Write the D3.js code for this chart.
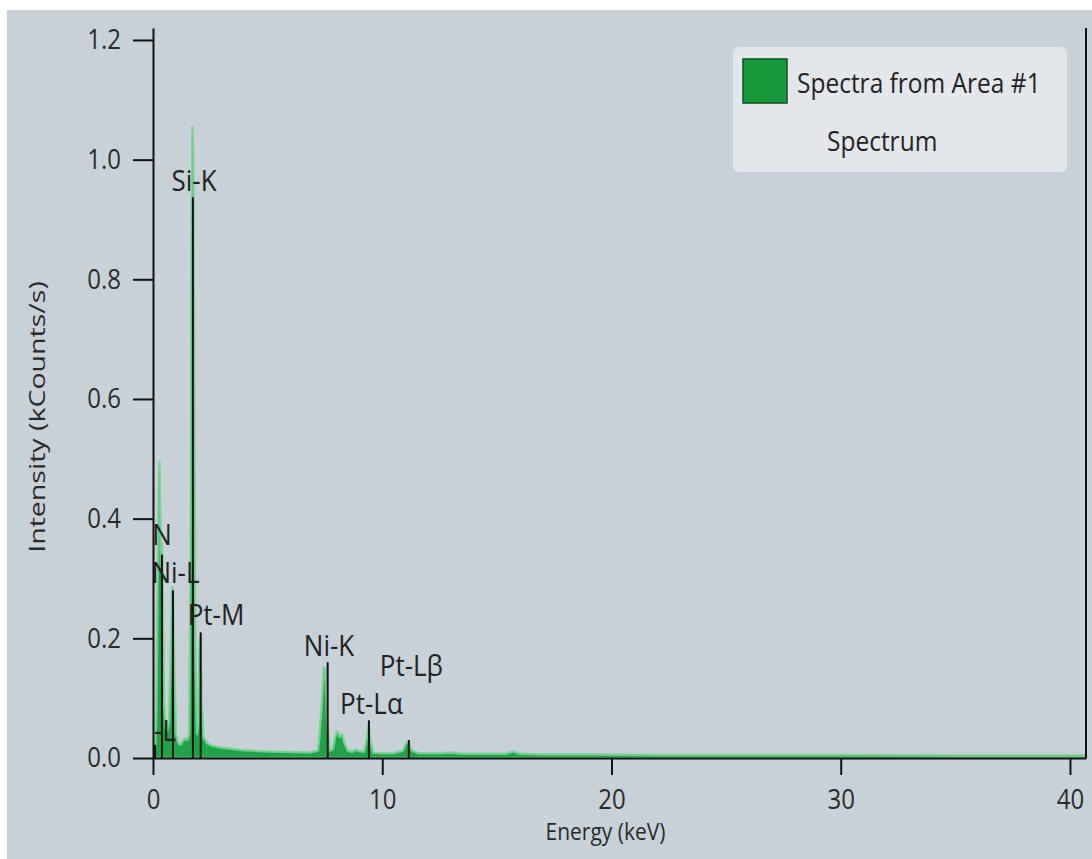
<!DOCTYPE html>
<html>
<head>
<meta charset="utf-8">
<script src="https://cdn.jsdelivr.net/npm/d3@7"></script>
<style>
  body { margin: 0; background: #ffffff; }
  svg { display: block; font-family: "Open Sans", "Noto Sans", sans-serif; }
</style>
</head>
<body>
<div id="chart"></div>
<script>
// EDS spectrum (energy in keV, intensity in kCounts/s)
const energy = [
  0.00, 0.05, 0.10, 0.15, 0.20, 0.25, 0.28, 0.31, 0.35, 0.39, 0.43, 0.48, 0.55, 0.62,
  0.70, 0.78, 0.84, 0.88, 0.93, 1.00, 1.10, 1.20, 1.30, 1.40, 1.50, 1.58, 1.64, 1.68,
  1.72, 1.76, 1.80, 1.85, 1.92, 1.98, 2.03, 2.07, 2.12, 2.20, 2.35, 2.60, 3.00, 3.50,
  4.00, 5.00, 6.00, 6.80, 7.20, 7.35, 7.45, 7.52, 7.60, 7.70, 7.85, 7.95, 8.05, 8.15,
  8.25, 8.35, 8.50, 8.70, 8.85, 8.95, 9.20, 9.32, 9.40, 9.48, 9.60, 10.0, 10.5, 10.9,
  11.05, 11.15, 11.3, 11.6, 12.5, 13.0, 13.5, 14.5, 15.4, 15.7, 16.0, 17.0, 19.0, 22.0,
  26.0, 30.0, 35.0, 40.7
];
const intensity = [
  0.000, 0.005, 0.020, 0.080, 0.280, 0.460, 0.495, 0.430, 0.320, 0.360, 0.270, 0.090, 0.050, 0.045,
  0.060, 0.190, 0.285, 0.280, 0.160, 0.040, 0.025, 0.022, 0.028, 0.033, 0.030, 0.040, 0.330, 0.820,
  1.055, 1.000, 0.620, 0.170, 0.040, 0.060, 0.190, 0.200, 0.100, 0.035, 0.025, 0.020, 0.017, 0.015,
  0.013, 0.011, 0.010, 0.009, 0.012, 0.080, 0.152, 0.148, 0.060, 0.012, 0.015, 0.035, 0.045, 0.035,
  0.040, 0.025, 0.012, 0.010, 0.014, 0.012, 0.010, 0.030, 0.055, 0.030, 0.009, 0.008, 0.008, 0.012,
  0.025, 0.026, 0.012, 0.008, 0.008, 0.009, 0.007, 0.007, 0.007, 0.011, 0.007, 0.006, 0.006, 0.005,
  0.005, 0.005, 0.004, 0.004
];

// element lines: marker position / height, and where the label sits
const lineNames     = ["Si-L", "N", "Ni-L", "Si-K", "Pt-M", "Ni-K", "Pt-Lα", "Pt-Lβ"];
const lineEnergy    = [0.09, 0.39, 0.87, 1.74, 2.08, 7.62, 9.42, 11.16];
const lineHeight    = [0.022, 0.34, 0.28, 0.937, 0.21, 0.16, 0.063, 0.03];
const labelEnergy   = [0.07, 0.39, 0.98, 1.79, 2.75, 7.68, 9.53, 11.27];
const labelIntensity= [0.028, 0.356, 0.292, 0.948, 0.222, 0.170, 0.0735, 0.137];

const yTicks = [0, 0.2, 0.4, 0.6, 0.8, 1.0, 1.2];
const xTicks = [0, 10, 20, 30, 40];

const W = 1092, H = 859;
const plot = { left: 153, right: 1086, top: 28, bottom: 758 };
const stretch = 1.15; // the screenshot is a little taller than wide

const svg = d3.select("#chart").append("svg")
  .attr("width", W)
  .attr("height", H);

// window background
svg.append("rect")
  .attr("x", 7).attr("y", 10)
  .attr("width", W - 7).attr("height", H - 10)
  .attr("fill", "#c9d1d8");

const x = d3.scaleLinear().domain([0, 40.7]).range([plot.left, plot.right]);
const y = d3.scaleLinear().domain([0, 1.22]).range([plot.bottom, plot.top]);

svg.append("clipPath").attr("id", "plotclip")
  .append("rect")
  .attr("x", plot.left + 1).attr("y", plot.top)
  .attr("width", plot.right - plot.left - 1).attr("height", plot.bottom - plot.top);

const spectrum = energy.map((e, i) => ({ e: e, v: intensity[i] }));

const area = d3.area()
  .x(d => x(d.e))
  .y0(y(0))
  .y1(d => y(d.v));

const g = svg.append("g").attr("clip-path", "url(#plotclip)");

g.append("path")
  .datum(spectrum)
  .attr("d", area)
  .attr("fill", "#1fa346")
  .attr("stroke", "#74d291")
  .attr("stroke-opacity", 0.85)
  .attr("stroke-width", 2.5)
  .attr("stroke-linejoin", "round");

// marker lines
const lines = lineNames.map((n, i) => ({
  name: n, e: lineEnergy[i], h: lineHeight[i], le: labelEnergy[i], lv: labelIntensity[i]
}));

g.selectAll(".marker")
  .data(lines)
  .enter()
  .append("line")
  .attr("class", "marker")
  .attr("x1", d => x(d.e))
  .attr("x2", d => x(d.e))
  .attr("y1", y(0))
  .attr("y2", d => y(d.h))
  .attr("stroke", "#111")
  .attr("stroke-width", 2);

g.selectAll(".mlabel")
  .data(lines)
  .enter()
  .append("text")
  .attr("class", "mlabel")
  .attr("transform", d => `translate(${x(d.le)},${y(d.lv)}) scale(1,${stretch})`)
  .attr("text-anchor", "middle")
  .attr("font-size", "26px")
  .attr("fill", "#222")
  .text(d => d.name);

// axes
const yAxis = svg.append("g")
  .attr("transform", `translate(${plot.left},0)`)
  .call(d3.axisLeft(y).tickValues(yTicks).tickFormat(d3.format(".1f"))
    .tickSize(20).tickSizeOuter(0).tickPadding(12));

const xAxis = svg.append("g")
  .attr("transform", `translate(0,${plot.bottom})`)
  .call(d3.axisBottom(x).tickValues(xTicks).tickFormat(d3.format("d"))
    .tickSize(17).tickSizeOuter(0).tickPadding(10));

[yAxis, xAxis].forEach(a => {
  a.select(".domain").attr("stroke", "#111").attr("stroke-width", 2);
  a.selectAll(".tick line").attr("stroke", "#111").attr("stroke-width", 2);
  a.selectAll(".tick text").attr("fill", "#2a2a2a").attr("font-size", "24px")
    .attr("font-family", "'Open Sans', 'Noto Sans', sans-serif")
    .attr("transform", `scale(1,${stretch})`);
});

// right frame edge
svg.append("line")
  .attr("x1", plot.right).attr("x2", plot.right)
  .attr("y1", plot.top).attr("y2", plot.bottom)
  .attr("stroke", "#111").attr("stroke-width", 2);

// axis titles
svg.append("text")
  .attr("transform", `translate(${(plot.left + plot.right) / 2 - 14},840) scale(1,${stretch})`)
  .attr("text-anchor", "middle")
  .attr("font-size", "21px")
  .attr("fill", "#2a2a2a")
  .text("Energy (keV)");

svg.append("text")
  .attr("transform", `translate(45,417) rotate(-90) scale(1.36,1)`)
  .attr("text-anchor", "middle")
  .attr("font-size", "21px")
  .attr("fill", "#2a2a2a")
  .text("Intensity (kCounts/s)");

// legend
const legend = svg.append("g").attr("transform", "translate(733,47)");
legend.append("rect")
  .attr("width", 334).attr("height", 125)
  .attr("rx", 6)
  .attr("fill", "#e3e7eb");
legend.append("rect")
  .attr("x", 10).attr("y", 12)
  .attr("width", 44).attr("height", 44)
  .attr("fill", "#169a3c")
  .attr("stroke", "#0d4f20")
  .attr("stroke-width", 1.5);
legend.append("text")
  .attr("transform", `translate(64,46) scale(1,${stretch})`)
  .attr("font-size", "24.5px")
  .attr("fill", "#222")
  .text("Spectra from Area #1");
legend.append("text")
  .attr("transform", `translate(94,104) scale(1,${stretch})`)
  .attr("font-size", "24.5px")
  .attr("fill", "#222")
  .text("Spectrum");
</script>
</body>
</html>
